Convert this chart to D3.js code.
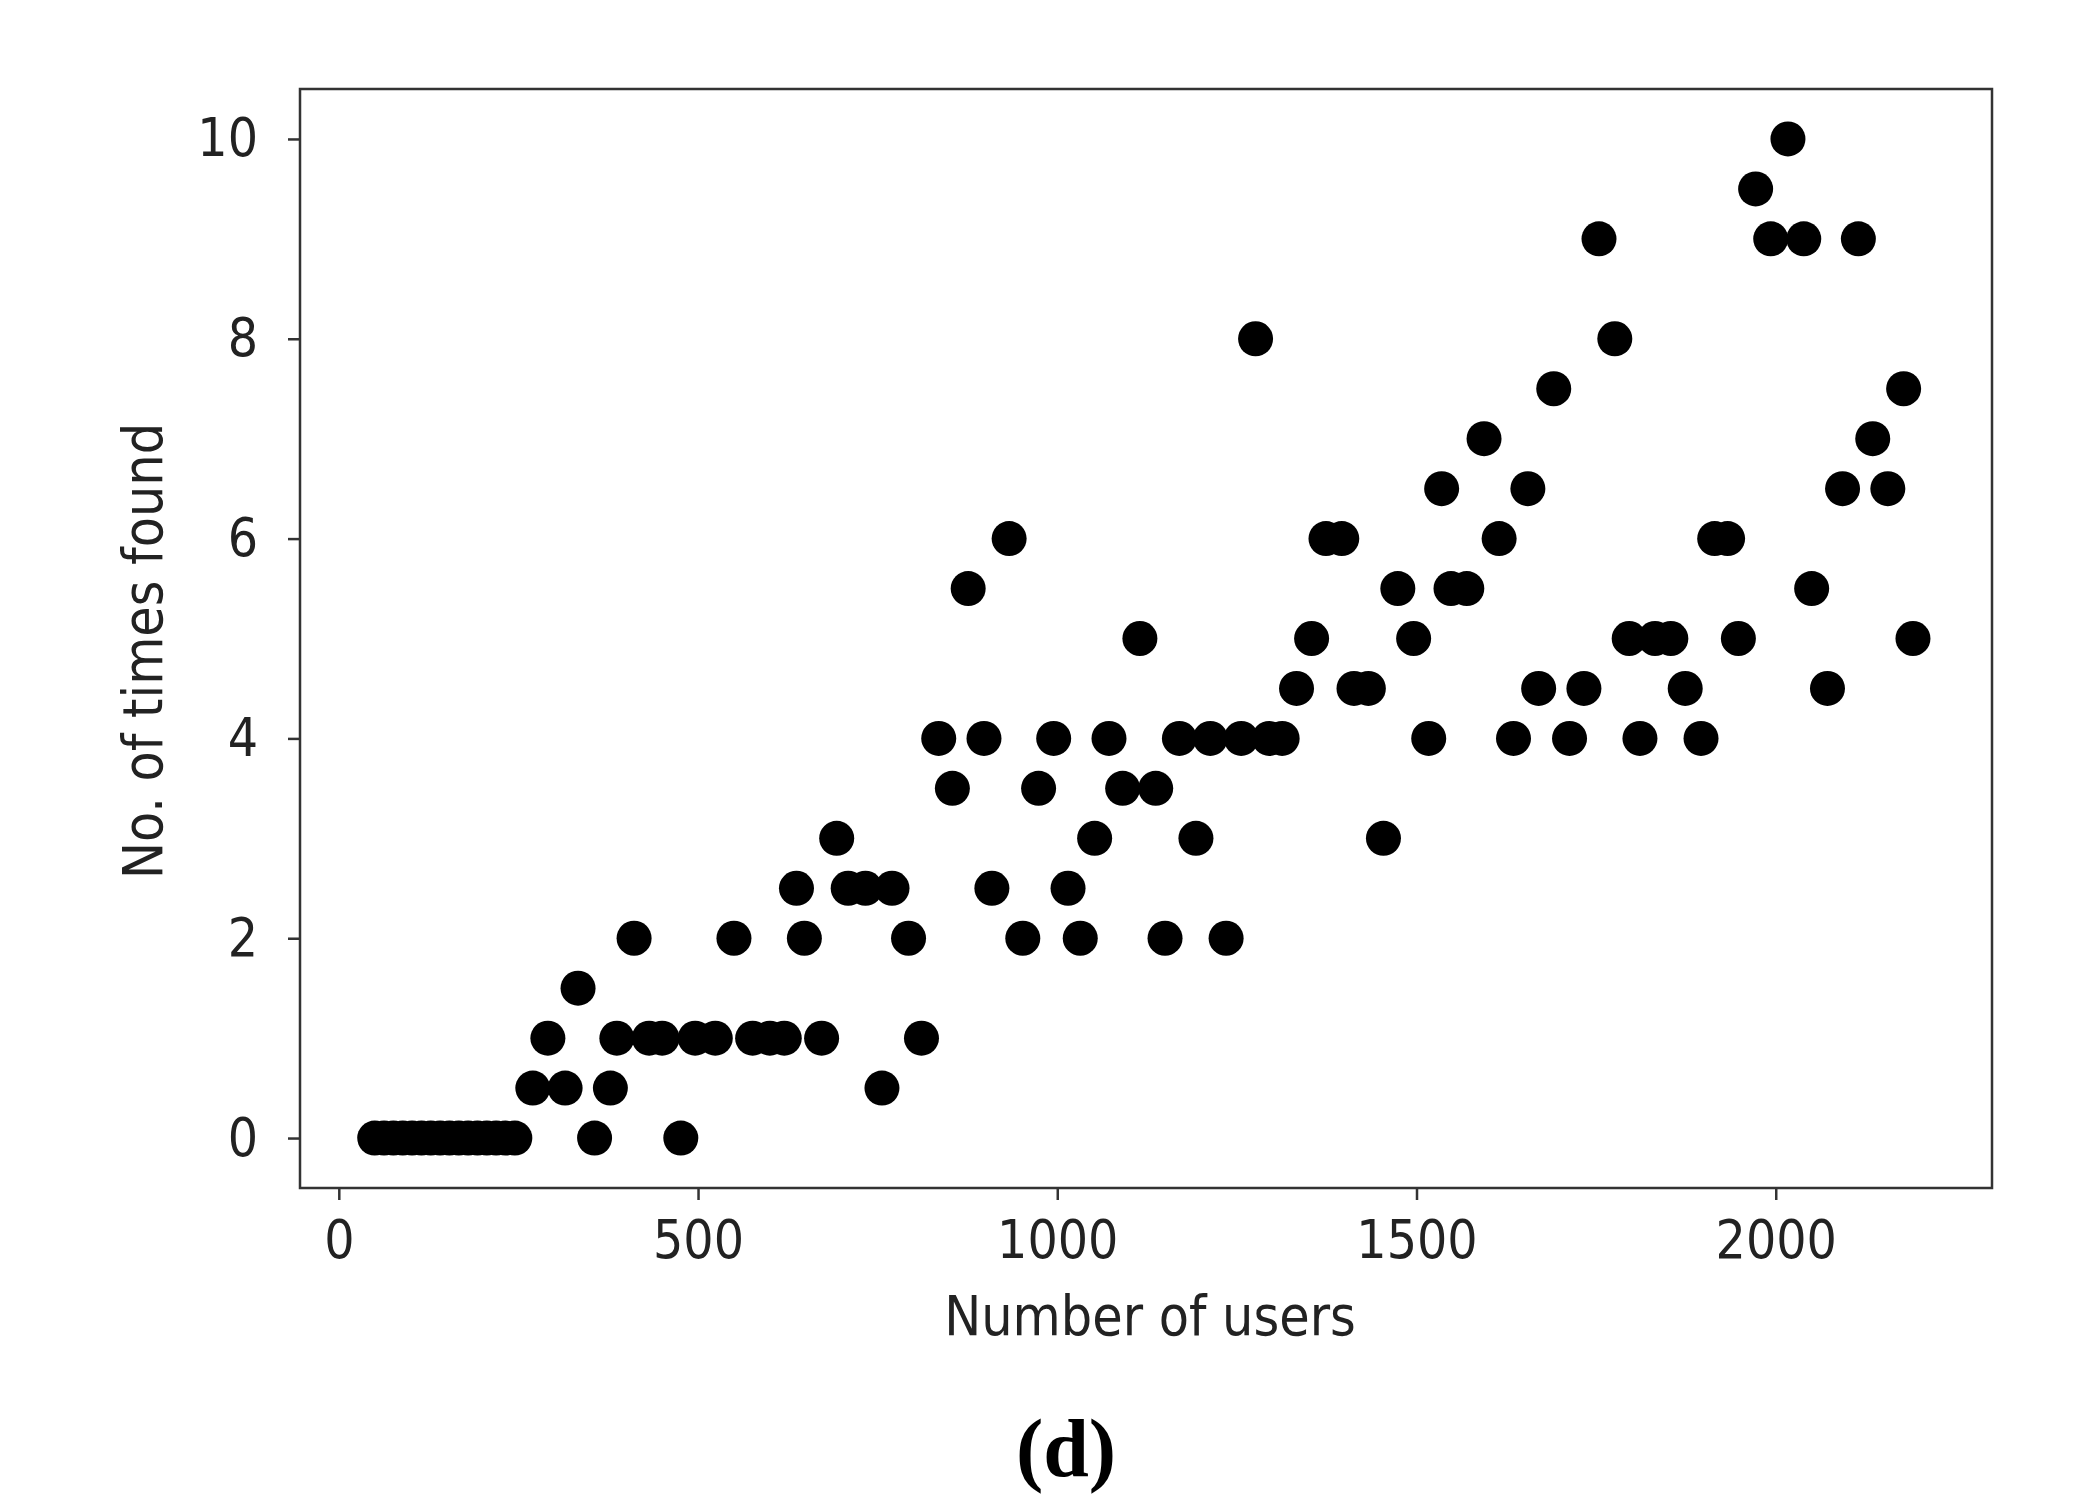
<!DOCTYPE html>
<html><head><meta charset="utf-8">
<script src="https://cdn.jsdelivr.net/npm/d3@7"></script>
<style>body{margin:0;background:#fff}</style></head>
<body><svg id="c" width="2084" height="1508"></svg>
<script>
const zeroX=[50,63,76,89,102,115,128,141,154,167,180,193,206,219,232,245,356,476];
const zeroY=zeroX.map(()=>0);
const xs=[270,315,378,756, 291,387,432,450,496,524,576,600,620,672,811, 333,
 411,550,648,793,952,1032,1150,1235, 637,709,733,770,909,1015, 693,1052,1193,1454,
 854,974,1091,1137, 835,898,995,1072,1170,1213,1256,1295,1313,1517,1635,1713,1811,1896,
 1333,1413,1433,1670,1733,1874,2072, 1115,1354,1496,1796,1832,1854,1948,2191,
 876,1474,1548,1570,2050, 933,1374,1396,1615,1915,1933, 1535,1655,2093,2156,
 1594,2135, 1691,2178, 1276,1776, 1754,1993,2039,2115, 1972, 2017];
const ys=[0.5,0.5,0.5,0.5, 1,1,1,1,1,1,1,1,1,1,1, 1.5,
 2,2,2,2,2,2,2,2, 2.5,2.5,2.5,2.5,2.5,2.5, 3,3,3,3,
 3.5,3.5,3.5,3.5, 4,4,4,4,4,4,4,4,4,4,4,4,4,4,
 4.5,4.5,4.5,4.5,4.5,4.5,4.5, 5,5,5,5,5,5,5,5,
 5.5,5.5,5.5,5.5,5.5, 6,6,6,6,6,6, 6.5,6.5,6.5,6.5,
 7,7, 7.5,7.5, 8,8, 9,9,9,9, 9.5, 10];
const xTicks=[0,500,1000,1500,2000];
const yTicks=[0,2,4,6,8,10];
const pts=zeroX.map((x,i)=>[x,zeroY[i]]).concat(xs.map((x,i)=>[x,ys[i]]));

const svg=d3.select("#c");
const L=300,R=1992,T=89,B=1188;
const x=d3.scaleLinear().domain([-54,2301]).range([L,R]);
const y=d3.scaleLinear().domain([-0.5,10.5]).range([B,T]);
const font="'DejaVu Sans Condensed','DejaVu Sans',sans-serif";

svg.append("g").selectAll("circle").data(pts).join("circle")
 .attr("cx",d=>x(d[0])).attr("cy",d=>y(d[1])).attr("r",17.5).attr("fill","#000");

const gx=svg.append("g").attr("transform",`translate(0,${B})`)
 .call(d3.axisBottom(x).tickValues(xTicks).tickSize(12).tickPadding(20).tickFormat(d3.format("d")));
const gy=svg.append("g").attr("transform",`translate(${L},0)`)
 .call(d3.axisLeft(y).tickValues(yTicks).tickSize(12).tickPadding(30).tickFormat(d3.format("d")));
[gx,gy].forEach(g=>{g.select(".domain").remove();
 g.selectAll("line").attr("stroke","#333").attr("stroke-width",2.5);
 g.selectAll("text").attr("font-family",font).attr("font-size",53).attr("fill","#222");});
svg.append("rect").attr("x",L).attr("y",T).attr("width",R-L).attr("height",B-T)
 .attr("fill","none").attr("stroke","#333").attr("stroke-width",2.5);

svg.append("text").attr("x",1150).attr("y",1335).attr("text-anchor","middle")
 .attr("font-family",font).attr("font-size",55).attr("fill","#222").text("Number of users");
svg.append("text").attr("transform",`translate(162,${651}) rotate(-90)`).attr("text-anchor","middle")
 .attr("font-family",font).attr("font-size",55).attr("fill","#222").text("No. of times found");
svg.append("text").attr("x",1066).attr("y",1476).attr("text-anchor","middle")
 .attr("font-family","'Liberation Serif','DejaVu Serif',serif").attr("font-weight","bold").attr("font-size",82).attr("fill","#000").text("(d)");
</script></body></html>
